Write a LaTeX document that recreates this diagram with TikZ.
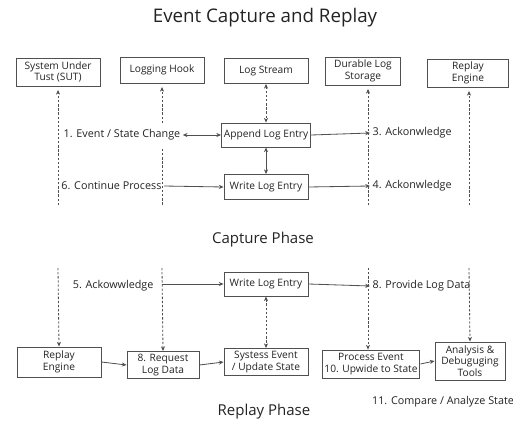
\documentclass[tikz,border=0pt]{standalone}
\usepackage{fontspec}
\setmainfont{Open Sans}
\usepackage{xcolor}
\usetikzlibrary{arrows.meta, positioning}
\definecolor{linegray}{RGB}{80,80,80}
\definecolor{textgray}{RGB}{35,35,35}
\tikzset{
    box/.style={rectangle, draw=linegray, line width=0.8pt, minimum width=2.52cm, minimum height=0.8cm, text centered, align=center, text=textgray, inner sep=2pt, font=\fontsize{8.7}{10}\selectfont},
    msg/.style={text=textgray, inner sep=2pt, font=\fontsize{9.2}{10}\selectfont},
    phase/.style={text=textgray, font=\fontsize{12.8}{14}\selectfont},
    flow/.style={-{Stealth[length=4pt, width=3.5pt]}, line width=0.7pt, draw=linegray},
    twoway/.style={{Stealth[length=4pt, width=3.5pt]}-{Stealth[length=4pt, width=3.5pt]}, line width=0.7pt, draw=linegray},
    lifeline/.style={line width=0.7pt, draw=linegray, dash pattern=on 2pt off 1.5pt}
}

\begin{document}
\begin{tikzpicture}[x=0.03cm, y=-0.03cm]
    \useasboundingbox (0,0) rectangle (513,422);

    % Title
    \node[text=textgray, font=\fontsize{16}{18}\selectfont] (title) at (265,18) {Event Capture and Replay};

    % Participants
    \node[box, minimum height=0.84cm] (sut) at (58,72) {System Under\\Tust (SUT)};
    \node[box, minimum height=0.78cm] (hook) at (162,70) {Logging Hook};
    \node[box, minimum height=0.75cm] (stream) at (266,71) {Log Stream};
    \node[box, minimum width=2.25cm, minimum height=0.84cm] (storage) at (363,71) {Durable Log\\Storage};
    \node[box, minimum width=2.43cm, minimum height=0.84cm] (engine) at (468,73) {Replay\\Engine};

    % Capture steps
    \node[box, minimum height=0.72cm] (append) at (266,135) {Append Log Entry};
    \node[box, minimum height=0.75cm] (write) at (266,187) {Write Log Entry};

    % Messages
    \node[msg] (event) at (122,135) {1. Event / State Change};
    \node[msg, anchor=west] (ack3) at (370,133) {3. Ackonwledge};
    \node[msg, anchor=east] (cont) at (164,186) {6. Continue Process};
    \node[msg, anchor=west] (ack4) at (370,186) {4. Ackonwledge};

    % Lifeline ends
    \coordinate (sutend) at (58,205);
    \coordinate (hooktop) at (162,123);
    \coordinate (hookmid) at (162,149);
    \coordinate (hookend) at (162,205);
    \coordinate (storend) at (368,205);
    \coordinate (engend) at (469,205);

    % Flows
    \draw[lifeline, flow] (sutend) -- ([yshift=-3pt]sut.south);
    \draw[lifeline, flow] (hooktop) -- ([yshift=-3pt]hook.south);
    \draw[lifeline] (hookmid) -- (hookend);
    \draw[lifeline, twoway] (stream.south) -- (append.north);
    \draw[twoway] (append.south) -- (write.north);
    \draw[lifeline, flow] (storend) -- ([yshift=-3pt]storend |- storage.south);
    \draw[lifeline, flow] (engend) -- ([yshift=-3pt]engend |- engine.south);
    \draw[twoway] (event.east) -- (append.west);
    \draw[flow] (append.east) -- (ack3.west);
    \draw[flow] (cont.east) -- (write.west);
    \draw[flow] (write.east) -- (ack4.west);

    % Phase label
    \node[phase] (capture) at (263,240) {Capture Phase};

    % Replay steps
    \node[box, minimum height=0.72cm] (write2) at (266,284) {Write Log Entry};
    \node[msg, anchor=east] (ack5) at (156,286) {5. Ackowwledge};
    \node[msg, anchor=west] (provide) at (370,286) {8. Provide Log Data};

    \node[box, minimum height=0.9cm] (replay) at (59,362) {Replay\\Engine};
    \node[box, minimum width=2.16cm, minimum height=0.81cm] (request) at (163,365) {8. Request\\Log Data};
    \node[box, minimum height=0.81cm] (update) at (266,362) {Systess Event\\/ Update State};
    \node[box, minimum width=2.7cm, minimum height=0.84cm] (process) at (371,364) {Process Event\\10. Upwide to State};
    \node[box, minimum width=2.1cm, minimum height=1.14cm] (tools) at (470,361) {Analysis \&\\Debuguging\\Tools};

    % Lifeline starts
    \coordinate (sutstart) at (58,268);
    \coordinate (hookstart) at (162,268);
    \coordinate (storstart) at (368,268);
    \coordinate (engstart) at (469,268);

    % Flows
    \draw[lifeline, flow] (sutstart) -- (replay.north);
    \draw[lifeline, flow] (hookstart) -- (request.north);
    \draw[lifeline, flow] (storstart) -- (storstart |- process.north);
    \draw[lifeline, flow] (engstart) -- (tools.north);
    \draw[flow] (hookstart |- write2.west) -- (write2.west);
    \draw[flow] (write2.east) -- (provide.west);
    \draw[lifeline, twoway] (write2.south) -- (update.north);
    \draw[flow] (replay.east) -- (request.west);
    \draw[flow] (request.east) -- (update.west);
    \draw[flow] (process.east) -- (tools.west);

    % Notes
    \node[msg] (compare) at (443,402) {11. Compare / Analyze State};
    \node[phase] (replayphase) at (264,412) {Replay Phase};
\end{tikzpicture}
\end{document}
